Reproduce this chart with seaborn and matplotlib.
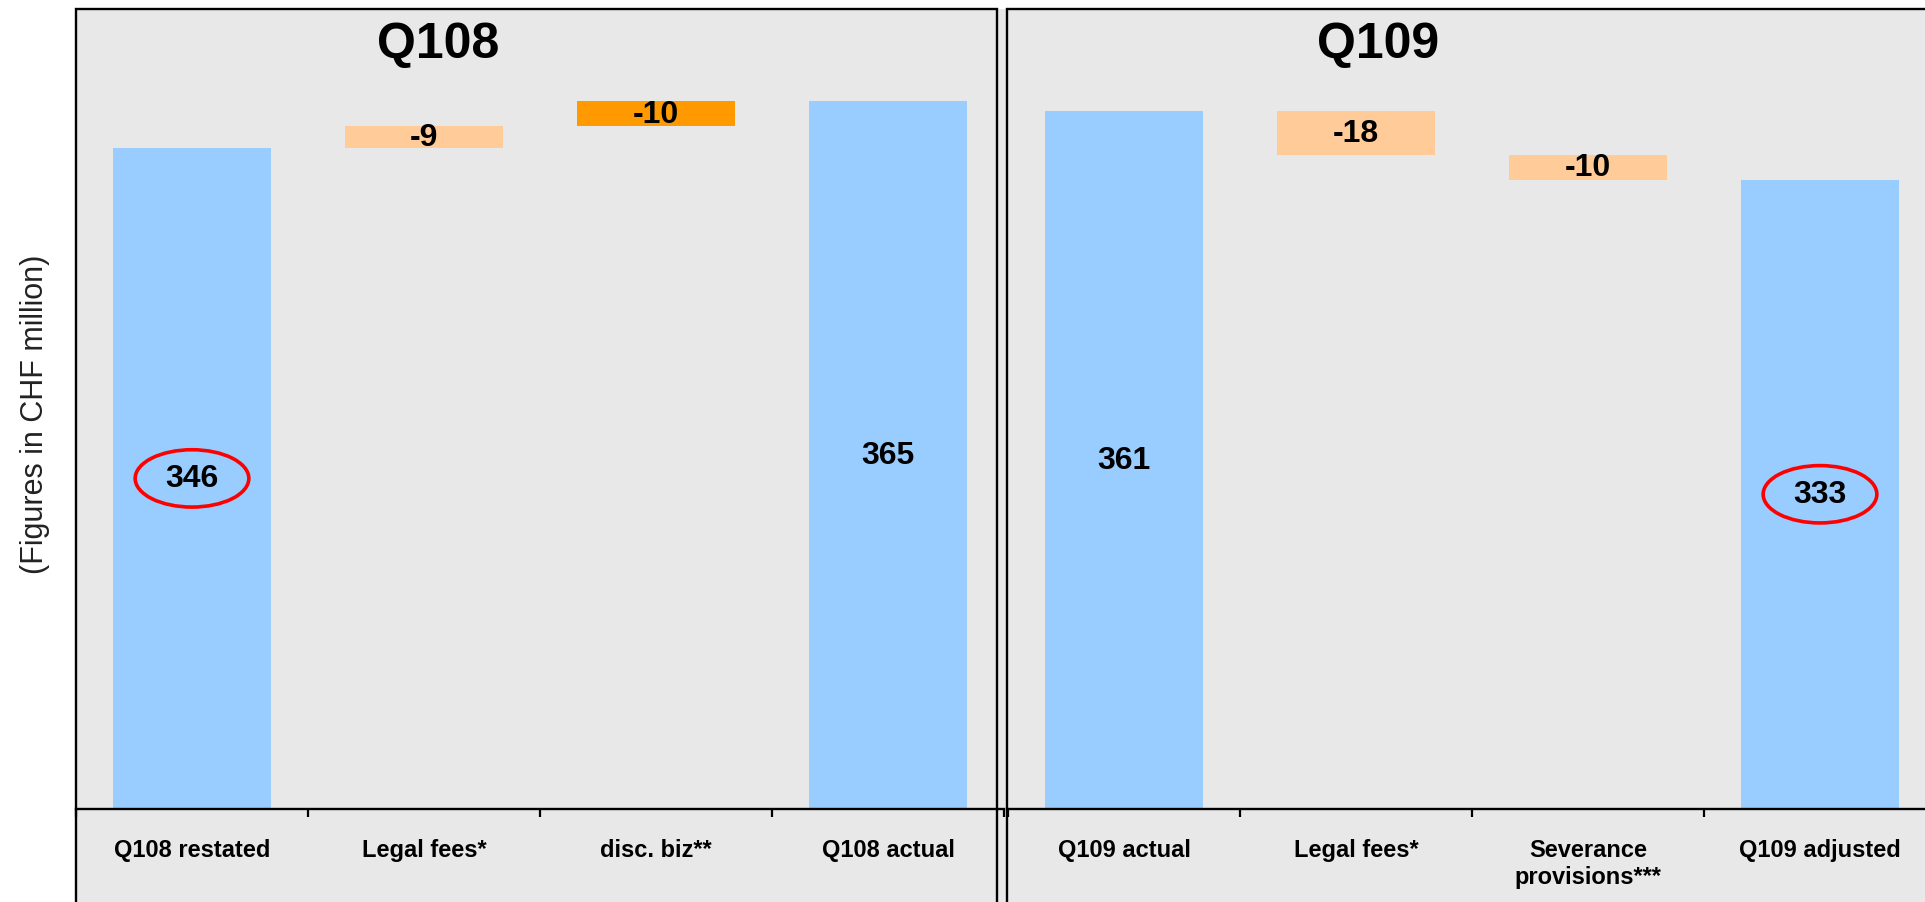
import matplotlib
matplotlib.use("Agg")
import matplotlib.pyplot as plt
from matplotlib.patches import Rectangle, Ellipse
from matplotlib.ticker import FixedLocator
import seaborn as sns

# ---- data -------------------------------------------------------------
q108_categories = ["Q108 restated", "Legal fees*", "disc. biz**", "Q108 actual"]
q108_restated = 346
q108_actual = 365
q108_adjustments = [-9, -10]          # legal fees, discontinued business

q109_categories = ["Q109 actual", "Legal fees*", "Severance\nprovisions***", "Q109 adjusted"]
q109_actual = 361
q109_adjusted = 333
q109_adjustments = [-18, -10]         # legal fees, severance provisions

panel_titles = ["Q108", "Q109"]
y_label = "(Figures in CHF million)"

# ---- style ------------------------------------------------------------
sns.set_theme(style="white")
plt.rcParams["font.family"] = ["Liberation Sans", "DejaVu Sans"]

BLUE = "#99CCFF"
PEACH = "#FFCC99"
ORANGE = "#FF9900"
PANEL_BG = "#E8E8E8"
Y_MIN, Y_MAX = 75, 402.9
BAR_W = 0.68

W, H = 1925, 903
fig = plt.figure(figsize=(W / 100, H / 100), dpi=100, facecolor="white")


def fx(x):
    return x / W


def fy(y):
    return 1 - y / H


# grey backdrop and the two framed panels
fig.patches.append(Rectangle((fx(76), fy(H + 20)), fx(W - 76 + 20), fy(10) - fy(H + 20),
                             transform=fig.transFigure, facecolor=PANEL_BG,
                             edgecolor="none", zorder=-10))
for x0, x1 in [(76, 997), (1007, 1940)]:
    fig.patches.append(Rectangle((fx(x0), fy(H + 20)), fx(x1 - x0), fy(10) - fy(H + 20),
                                 transform=fig.transFigure, facecolor="none",
                                 edgecolor="black", linewidth=1.7, zorder=5))


def draw_panel(left_px, right_px, categories, totals, floats, circled, title, title_x):
    ax = fig.add_axes([fx(left_px), fy(810), fx(right_px - left_px), fy(10) - fy(810)])
    ax.set_zorder(1)
    ax.set_facecolor("none")

    # total bars (first and last category)
    tot_cats = [categories[0], categories[-1]]
    sns.barplot(x=tot_cats, y=totals, order=categories, color=BLUE,
                saturation=1, width=BAR_W, linewidth=0, edgecolor="none", ax=ax)

    # floating adjustment bars
    for pos, (bottom, adj, col) in floats.items():
        ax.bar(pos, abs(adj), bottom=bottom, width=BAR_W, color=col,
               linewidth=0, edgecolor="none")
        ax.text(pos, bottom + abs(adj) / 2, f"{adj}", ha="center", va="center",
                fontsize=23, fontweight="bold", color="black")

    for pos, val in zip([0, len(categories) - 1], totals):
        yc = (Y_MIN + val) / 2
        ax.text(pos, yc, f"{val}", ha="center", va="center",
                fontsize=23, fontweight="bold", color="black", zorder=4)
        if pos in circled:
            ax.add_patch(Ellipse((pos, yc), 0.49, 23.5, facecolor="none",
                                 edgecolor="#FF0000", linewidth=2.6, zorder=5))

    ax.set_ylim(Y_MIN, Y_MAX)
    ax.set_xlim(-0.5, len(categories) - 0.5)
    ax.set_xlabel("")
    ax.set_ylabel("")
    ax.set_yticks([])
    for s in ["left", "right", "top"]:
        ax.spines[s].set_visible(False)
    ax.spines["bottom"].set_color("black")
    ax.spines["bottom"].set_linewidth(1.7)

    ax.set_xticks(range(len(categories)))
    ax.set_xticklabels(categories, fontsize=17, fontweight="bold", color="black")
    ax.tick_params(axis="x", which="major", length=0, pad=21)
    ax.xaxis.set_minor_locator(FixedLocator([i - 0.5 for i in range(len(categories) + 1)]))
    ax.tick_params(axis="x", which="minor", length=6, width=1.6, color="black",
                   direction="out", bottom=True)

    fig.text(fx(title_x), fy(58), title, ha="center", va="baseline",
             fontsize=36, fontweight="bold", color="black", zorder=6)
    return ax


# Q108: adjustments step down from the actual figure to the restated one
floats108 = {}
level = q108_actual
for pos, adj, col in zip([2, 1], reversed(q108_adjustments), [ORANGE, PEACH]):
    level = level + adj
    floats108[pos] = (level, adj, col)

draw_panel(76, 1004, q108_categories, [q108_restated, q108_actual], floats108,
           circled=[0], title=panel_titles[0], title_x=438)

# Q109: adjustments step down from actual to adjusted
floats109 = {}
level = q109_actual
for pos, adj in zip([1, 2], q109_adjustments):
    level = level + adj
    floats109[pos] = (level, adj, PEACH)

draw_panel(1008, 1936, q109_categories, [q109_actual, q109_adjusted], floats109,
           circled=[3], title=panel_titles[1], title_x=1378)

fig.text(fx(35), fy(414), y_label, rotation=90, ha="center", va="center",
         fontsize=22, color="#222222")

fig.savefig("out.png", dpi=100, facecolor="white")
